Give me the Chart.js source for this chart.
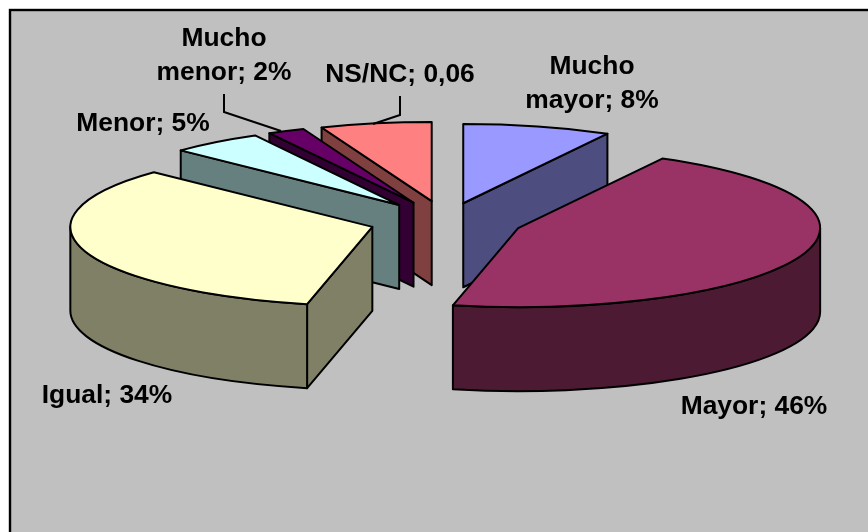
<!DOCTYPE html>
<html><head><meta charset="utf-8">
<style>html,body{margin:0;padding:0;background:#fff;overflow:hidden}canvas{display:block}</style>
<script src="https://cdn.jsdelivr.net/npm/chart.js@4/dist/chart.umd.min.js"></script>
</head><body><canvas id="c" width="868" height="532"></canvas>
<script>
const categories = ['Mucho mayor','Mayor','Igual','Menor','Mucho menor','NS/NC'];
const values = [0.08,0.46,0.34,0.05,0.02,0.06];
const topColors = ['#9999FF','#993366','#FFFFCC','#CCFFFF','#660066','#FF8080'];
const sideColors = ['#4D4D80','#4D1A33','#808066','#668080','#330033','#804040'];
const labelLines = [['Mucho','mayor; 8%'],['Mayor; 46%'],['Igual; 34%'],['Menor; 5%'],['Mucho','menor; 2%'],['NS/NC; 0,06']];
const labelAnchors = [[592,74],[754,414],[107,403],[143,131],[224,46],[400,82]];
const labelLeading = 34;
const leaderLines = [null,null,null,null,[[224,94],[224,112],[281,131]],[[400,96],[400,115],[373,124]]];
const explode = [70,77,77,77,77,77];
const TILT = 0.262, DEPTH = 84, LINE = 2;
const paintOrder = [5,4,3,0,2,1];

const pie3d = {
  id:'pie3d',
  beforeDraw(chart){
    const ctx = chart.ctx;
    ctx.save();
    ctx.fillStyle='#C0C0C0';
    ctx.strokeStyle='#000';
    ctx.lineWidth=2.4;
    ctx.fillRect(10,10,900,600);
    ctx.strokeRect(10,10,900,600);
    ctx.restore();
  },
  beforeDatasetDraw(chart,args){
    const ctx = chart.ctx, arcs = args.meta.data;
    paintOrder.forEach(i=>{
      const a = arcs[i], r = a.outerRadius, ry = r*TILT;
      const mid = (a.startAngle+a.endAngle)/2;
      const cx = a.x+explode[i]*Math.cos(mid), cy = a.y+explode[i]*Math.sin(mid)*TILT;
      const px = t=>cx+r*Math.cos(t), py = t=>cy+ry*Math.sin(t);
      ctx.save();
      ctx.lineWidth=LINE; ctx.strokeStyle='#000'; ctx.lineJoin='round'; ctx.fillStyle=sideColors[i];
      const wall = t=>{
        ctx.beginPath();ctx.moveTo(cx,cy);ctx.lineTo(px(t),py(t));
        ctx.lineTo(px(t),py(t)+DEPTH);ctx.lineTo(cx,cy+DEPTH);ctx.closePath();
        ctx.fill();ctx.stroke();
      };
      // back-facing radial walls are skipped: only those turned to the viewer
      if(Math.cos(a.startAngle)<0 && a.startAngle>Math.PI/2) wall(a.startAngle);
      if(Math.cos(a.endAngle)>0 && a.endAngle<Math.PI/2) wall(a.endAngle);
      const lo=Math.max(a.startAngle,0), hi=Math.min(a.endAngle,Math.PI);
      if(lo<hi){
        ctx.beginPath();ctx.ellipse(cx,cy,r,ry,0,lo,hi);
        ctx.lineTo(px(hi),py(hi)+DEPTH);
        ctx.ellipse(cx,cy+DEPTH,r,ry,0,hi,lo,true);
        ctx.closePath();ctx.fill();ctx.stroke();
      }
      // top face: the library's arc element, squashed into the tilted plane
      ctx.save();
      ctx.translate(cx,cy);ctx.scale(1,TILT);ctx.translate(-a.x,-a.y);
      a.draw(ctx);
      ctx.restore();
      ctx.beginPath();ctx.moveTo(cx,cy);ctx.ellipse(cx,cy,r,ry,0,a.startAngle,a.endAngle);ctx.closePath();ctx.stroke();
      ctx.restore();
    });
    return false;
  },
  afterDraw(chart){
    const ctx = chart.ctx;
    ctx.save();
    ctx.strokeStyle='#000';ctx.lineWidth=2;
    leaderLines.forEach(l=>{ if(!l) return;
      ctx.beginPath();l.forEach((p,j)=>j?ctx.lineTo(p[0],p[1]):ctx.moveTo(p[0],p[1]));ctx.stroke();});
    ctx.fillStyle='#000';ctx.font='bold 26.4px "Liberation Sans", Arial, sans-serif';
    ctx.textAlign='center';ctx.textBaseline='alphabetic';
    labelLines.forEach((ls,i)=>ls.forEach((s,j)=>ctx.fillText(s,labelAnchors[i][0],labelAnchors[i][1]+j*labelLeading)));
    ctx.restore();
  }
};

new Chart(document.getElementById('c'),{
  type:'pie',
  data:{labels:categories,datasets:[{data:values,backgroundColor:topColors,borderWidth:0,clip:false}]},
  options:{
    responsive:false,animation:false,events:[],
    radius:302,
    layout:{padding:{left:24,right:0,top:0,bottom:90}},
    plugins:{legend:{display:false},tooltip:{enabled:false}}
  },
  plugins:[pie3d]
});
</script></body></html>
